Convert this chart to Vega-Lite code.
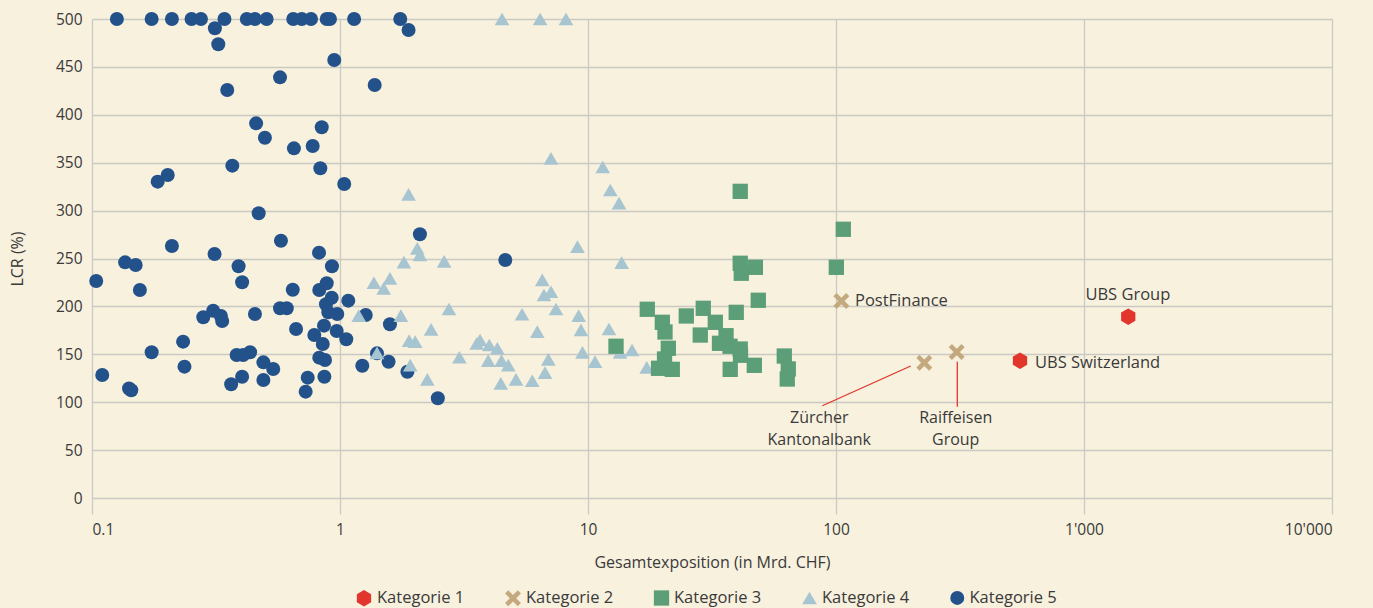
{
  "$schema": "https://vega.github.io/schema/vega-lite/v6.json",
  "width": 1240,
  "height": 479,
  "autosize": "none",
  "padding": {"left": 92, "top": 19, "right": 41, "bottom": 110},
  "background": "#f8f1de",
  "config": {
    "view": {"stroke": null},
    "font": "Open Sans",
    "axis": {"labelColor": "#3a3a3a", "titleColor": "#3a3a3a", "labelFont": "Open Sans", "titleFont": "Open Sans", "titleFontWeight": "normal", "gridColor": "#cbc9c3", "gridWidth": 1.3, "tickColor": "#cbc9c3", "tickWidth": 1.3},
    "legend": {"labelFont": "Open Sans", "labelColor": "#3a3a3a"}
  },
  "datasets": {
    "pts": [
      {"x": 0.126, "y": 500, "kategorie": "Kategorie 5"},
      {"x": 0.174, "y": 500, "kategorie": "Kategorie 5"},
      {"x": 0.210, "y": 500, "kategorie": "Kategorie 5"},
      {"x": 0.252, "y": 500, "kategorie": "Kategorie 5"},
      {"x": 0.275, "y": 500, "kategorie": "Kategorie 5"},
      {"x": 0.342, "y": 500, "kategorie": "Kategorie 5"},
      {"x": 0.421, "y": 500, "kategorie": "Kategorie 5"},
      {"x": 0.454, "y": 500, "kategorie": "Kategorie 5"},
      {"x": 0.506, "y": 500, "kategorie": "Kategorie 5"},
      {"x": 0.648, "y": 500, "kategorie": "Kategorie 5"},
      {"x": 0.701, "y": 500, "kategorie": "Kategorie 5"},
      {"x": 0.764, "y": 500, "kategorie": "Kategorie 5"},
      {"x": 0.884, "y": 500, "kategorie": "Kategorie 5"},
      {"x": 0.911, "y": 500, "kategorie": "Kategorie 5"},
      {"x": 1.14, "y": 500, "kategorie": "Kategorie 5"},
      {"x": 1.75, "y": 500, "kategorie": "Kategorie 5"},
      {"x": 0.313, "y": 490.3, "kategorie": "Kategorie 5"},
      {"x": 0.323, "y": 473.6, "kategorie": "Kategorie 5"},
      {"x": 1.89, "y": 488.5, "kategorie": "Kategorie 5"},
      {"x": 0.948, "y": 457.2, "kategorie": "Kategorie 5"},
      {"x": 0.573, "y": 439.1, "kategorie": "Kategorie 5"},
      {"x": 1.38, "y": 431.1, "kategorie": "Kategorie 5"},
      {"x": 0.351, "y": 425.9, "kategorie": "Kategorie 5"},
      {"x": 0.459, "y": 391.1, "kategorie": "Kategorie 5"},
      {"x": 0.844, "y": 387, "kategorie": "Kategorie 5"},
      {"x": 0.498, "y": 376.1, "kategorie": "Kategorie 5"},
      {"x": 0.652, "y": 365, "kategorie": "Kategorie 5"},
      {"x": 0.776, "y": 367.4, "kategorie": "Kategorie 5"},
      {"x": 0.368, "y": 346.9, "kategorie": "Kategorie 5"},
      {"x": 0.833, "y": 344.2, "kategorie": "Kategorie 5"},
      {"x": 0.184, "y": 330.2, "kategorie": "Kategorie 5"},
      {"x": 0.202, "y": 337.2, "kategorie": "Kategorie 5"},
      {"x": 1.04, "y": 327.8, "kategorie": "Kategorie 5"},
      {"x": 0.470, "y": 297.2, "kategorie": "Kategorie 5"},
      {"x": 2.10, "y": 275.3, "kategorie": "Kategorie 5"},
      {"x": 0.210, "y": 263, "kategorie": "Kategorie 5"},
      {"x": 0.578, "y": 268.6, "kategorie": "Kategorie 5"},
      {"x": 0.312, "y": 254.7, "kategorie": "Kategorie 5"},
      {"x": 0.823, "y": 256.1, "kategorie": "Kategorie 5"},
      {"x": 4.64, "y": 248.4, "kategorie": "Kategorie 5"},
      {"x": 0.104, "y": 226.5, "kategorie": "Kategorie 5"},
      {"x": 0.136, "y": 246, "kategorie": "Kategorie 5"},
      {"x": 0.150, "y": 243.2, "kategorie": "Kategorie 5"},
      {"x": 0.156, "y": 217.1, "kategorie": "Kategorie 5"},
      {"x": 0.390, "y": 241.9, "kategorie": "Kategorie 5"},
      {"x": 0.403, "y": 225.2, "kategorie": "Kategorie 5"},
      {"x": 0.928, "y": 241.9, "kategorie": "Kategorie 5"},
      {"x": 0.884, "y": 224.1, "kategorie": "Kategorie 5"},
      {"x": 0.825, "y": 217.1, "kategorie": "Kategorie 5"},
      {"x": 0.645, "y": 217.4, "kategorie": "Kategorie 5"},
      {"x": 0.926, "y": 209.1, "kategorie": "Kategorie 5"},
      {"x": 1.08, "y": 206, "kategorie": "Kategorie 5"},
      {"x": 0.878, "y": 202.2, "kategorie": "Kategorie 5"},
      {"x": 0.573, "y": 198, "kategorie": "Kategorie 5"},
      {"x": 0.610, "y": 198, "kategorie": "Kategorie 5"},
      {"x": 0.897, "y": 193.8, "kategorie": "Kategorie 5"},
      {"x": 0.975, "y": 192.1, "kategorie": "Kategorie 5"},
      {"x": 1.27, "y": 191, "kategorie": "Kategorie 5"},
      {"x": 0.665, "y": 176.4, "kategorie": "Kategorie 5"},
      {"x": 0.862, "y": 179.9, "kategorie": "Kategorie 5"},
      {"x": 0.970, "y": 174.3, "kategorie": "Kategorie 5"},
      {"x": 0.788, "y": 170.1, "kategorie": "Kategorie 5"},
      {"x": 1.06, "y": 165.7, "kategorie": "Kategorie 5"},
      {"x": 0.852, "y": 160.8, "kategorie": "Kategorie 5"},
      {"x": 1.59, "y": 181.3, "kategorie": "Kategorie 5"},
      {"x": 0.825, "y": 146.5, "kategorie": "Kategorie 5"},
      {"x": 0.870, "y": 144, "kategorie": "Kategorie 5"},
      {"x": 1.41, "y": 151, "kategorie": "Kategorie 5"},
      {"x": 1.57, "y": 142.3, "kategorie": "Kategorie 5"},
      {"x": 1.23, "y": 138.1, "kategorie": "Kategorie 5"},
      {"x": 0.538, "y": 134.7, "kategorie": "Kategorie 5"},
      {"x": 0.741, "y": 125.6, "kategorie": "Kategorie 5"},
      {"x": 0.865, "y": 126.6, "kategorie": "Kategorie 5"},
      {"x": 0.727, "y": 111, "kategorie": "Kategorie 5"},
      {"x": 1.87, "y": 131.8, "kategorie": "Kategorie 5"},
      {"x": 2.48, "y": 104.1, "kategorie": "Kategorie 5"},
      {"x": 0.454, "y": 192.1, "kategorie": "Kategorie 5"},
      {"x": 0.281, "y": 188.6, "kategorie": "Kategorie 5"},
      {"x": 0.308, "y": 195.5, "kategorie": "Kategorie 5"},
      {"x": 0.335, "y": 184.8, "kategorie": "Kategorie 5"},
      {"x": 0.331, "y": 190, "kategorie": "Kategorie 5"},
      {"x": 0.233, "y": 163.2, "kategorie": "Kategorie 5"},
      {"x": 0.236, "y": 137.1, "kategorie": "Kategorie 5"},
      {"x": 0.174, "y": 152.1, "kategorie": "Kategorie 5"},
      {"x": 0.110, "y": 128.4, "kategorie": "Kategorie 5"},
      {"x": 0.141, "y": 114.3, "kategorie": "Kategorie 5"},
      {"x": 0.144, "y": 112.4, "kategorie": "Kategorie 5"},
      {"x": 0.383, "y": 149.3, "kategorie": "Kategorie 5"},
      {"x": 0.407, "y": 149.3, "kategorie": "Kategorie 5"},
      {"x": 0.434, "y": 152.1, "kategorie": "Kategorie 5"},
      {"x": 0.491, "y": 141.6, "kategorie": "Kategorie 5"},
      {"x": 0.403, "y": 126.6, "kategorie": "Kategorie 5"},
      {"x": 0.364, "y": 118.7, "kategorie": "Kategorie 5"},
      {"x": 0.491, "y": 123.2, "kategorie": "Kategorie 5"},

      {"x": 4.50, "y": 500, "kategorie": "Kategorie 4"},
      {"x": 6.41, "y": 500, "kategorie": "Kategorie 4"},
      {"x": 8.15, "y": 500, "kategorie": "Kategorie 4"},
      {"x": 7.09, "y": 354.6, "kategorie": "Kategorie 4"},
      {"x": 11.47, "y": 345.5, "kategorie": "Kategorie 4"},
      {"x": 12.30, "y": 321.5, "kategorie": "Kategorie 4"},
      {"x": 13.34, "y": 307.9, "kategorie": "Kategorie 4"},
      {"x": 9.07, "y": 262.3, "kategorie": "Kategorie 4"},
      {"x": 13.67, "y": 245.6, "kategorie": "Kategorie 4"},
      {"x": 2.63, "y": 246.9, "kategorie": "Kategorie 4"},
      {"x": 6.54, "y": 227.6, "kategorie": "Kategorie 4"},
      {"x": 6.645, "y": 211.9, "kategorie": "Kategorie 4"},
      {"x": 7.09, "y": 215.3, "kategorie": "Kategorie 4"},
      {"x": 7.43, "y": 197.3, "kategorie": "Kategorie 4"},
      {"x": 2.75, "y": 197.3, "kategorie": "Kategorie 4"},
      {"x": 5.42, "y": 191.8, "kategorie": "Kategorie 4"},
      {"x": 9.17, "y": 190.3, "kategorie": "Kategorie 4"},
      {"x": 9.37, "y": 175.4, "kategorie": "Kategorie 4"},
      {"x": 12.15, "y": 176.4, "kategorie": "Kategorie 4"},
      {"x": 6.245, "y": 173.6, "kategorie": "Kategorie 4"},
      {"x": 3.56, "y": 161.5, "kategorie": "Kategorie 4"},
      {"x": 3.67, "y": 164.9, "kategorie": "Kategorie 4"},
      {"x": 4.00, "y": 159.7, "kategorie": "Kategorie 4"},
      {"x": 4.31, "y": 156.3, "kategorie": "Kategorie 4"},
      {"x": 3.03, "y": 146.9, "kategorie": "Kategorie 4"},
      {"x": 3.96, "y": 143.5, "kategorie": "Kategorie 4"},
      {"x": 4.48, "y": 143.5, "kategorie": "Kategorie 4"},
      {"x": 4.77, "y": 138.8, "kategorie": "Kategorie 4"},
      {"x": 6.92, "y": 144.8, "kategorie": "Kategorie 4"},
      {"x": 6.71, "y": 130.8, "kategorie": "Kategorie 4"},
      {"x": 9.50, "y": 152.1, "kategorie": "Kategorie 4"},
      {"x": 10.67, "y": 142.3, "kategorie": "Kategorie 4"},
      {"x": 13.46, "y": 151.9, "kategorie": "Kategorie 4"},
      {"x": 15.05, "y": 154.5, "kategorie": "Kategorie 4"},
      {"x": 4.45, "y": 119.7, "kategorie": "Kategorie 4"},
      {"x": 5.125, "y": 123.9, "kategorie": "Kategorie 4"},
      {"x": 5.96, "y": 122.4, "kategorie": "Kategorie 4"},
      {"x": 17.25, "y": 136.4, "kategorie": "Kategorie 4"},
      {"x": 1.89, "y": 317, "kategorie": "Kategorie 4"},
      {"x": 2.05, "y": 260.6, "kategorie": "Kategorie 4"},
      {"x": 2.10, "y": 253.7, "kategorie": "Kategorie 4"},
      {"x": 1.81, "y": 246.3, "kategorie": "Kategorie 4"},
      {"x": 1.37, "y": 224.7, "kategorie": "Kategorie 4"},
      {"x": 1.59, "y": 229.3, "kategorie": "Kategorie 4"},
      {"x": 1.50, "y": 218.9, "kategorie": "Kategorie 4"},
      {"x": 1.19, "y": 190.3, "kategorie": "Kategorie 4"},
      {"x": 1.76, "y": 190.3, "kategorie": "Kategorie 4"},
      {"x": 2.33, "y": 176.1, "kategorie": "Kategorie 4"},
      {"x": 1.90, "y": 164.2, "kategorie": "Kategorie 4"},
      {"x": 2.01, "y": 163.2, "kategorie": "Kategorie 4"},
      {"x": 1.41, "y": 151.4, "kategorie": "Kategorie 4"},
      {"x": 1.92, "y": 138.8, "kategorie": "Kategorie 4"},
      {"x": 2.25, "y": 123.9, "kategorie": "Kategorie 4"},

      {"x": 41.1, "y": 320.1, "kategorie": "Kategorie 3"},
      {"x": 107.0, "y": 280.5, "kategorie": "Kategorie 3"},
      {"x": 100.3, "y": 240.8, "kategorie": "Kategorie 3"},
      {"x": 41.1, "y": 245, "kategorie": "Kategorie 3"},
      {"x": 41.5, "y": 234.6, "kategorie": "Kategorie 3"},
      {"x": 47.3, "y": 240.8, "kategorie": "Kategorie 3"},
      {"x": 48.6, "y": 206.4, "kategorie": "Kategorie 3"},
      {"x": 17.34, "y": 197, "kategorie": "Kategorie 3"},
      {"x": 29.16, "y": 198, "kategorie": "Kategorie 3"},
      {"x": 39.6, "y": 193.8, "kategorie": "Kategorie 3"},
      {"x": 19.94, "y": 183.4, "kategorie": "Kategorie 3"},
      {"x": 20.44, "y": 173.3, "kategorie": "Kategorie 3"},
      {"x": 24.91, "y": 190, "kategorie": "Kategorie 3"},
      {"x": 32.61, "y": 183.4, "kategorie": "Kategorie 3"},
      {"x": 28.36, "y": 170.1, "kategorie": "Kategorie 3"},
      {"x": 36.02, "y": 169.4, "kategorie": "Kategorie 3"},
      {"x": 33.9, "y": 161.5, "kategorie": "Kategorie 3"},
      {"x": 37.38, "y": 158.4, "kategorie": "Kategorie 3"},
      {"x": 41.1, "y": 155.5, "kategorie": "Kategorie 3"},
      {"x": 41.2, "y": 149, "kategorie": "Kategorie 3"},
      {"x": 21.08, "y": 156.3, "kategorie": "Kategorie 3"},
      {"x": 20.35, "y": 145.1, "kategorie": "Kategorie 3"},
      {"x": 19.25, "y": 135.4, "kategorie": "Kategorie 3"},
      {"x": 21.87, "y": 134.3, "kategorie": "Kategorie 3"},
      {"x": 37.45, "y": 134.3, "kategorie": "Kategorie 3"},
      {"x": 46.84, "y": 138.5, "kategorie": "Kategorie 3"},
      {"x": 61.87, "y": 148.2, "kategorie": "Kategorie 3"},
      {"x": 64.2, "y": 134.7, "kategorie": "Kategorie 3"},
      {"x": 63.6, "y": 124.2, "kategorie": "Kategorie 3"},
      {"x": 12.97, "y": 158.4, "kategorie": "Kategorie 3"},

      {"x": 105.1, "y": 205.6, "kategorie": "Kategorie 2"},
      {"x": 227, "y": 141.2, "kategorie": "Kategorie 2"},
      {"x": 306.7, "y": 152.4, "kategorie": "Kategorie 2"},

      {"x": 1508, "y": 189.2, "kategorie": "Kategorie 1"},
      {"x": 552, "y": 143.3, "kategorie": "Kategorie 1"}
    ],
    "lines": [
      {"x": 88.1, "y": 96.3, "x2": 200.1, "y2": 137.8},
      {"x": 308.4, "y": 95.3, "x2": 308.4, "y2": 142.3}
    ],
    "labelsLeft": [
      {"x": 119.3, "y": 205.6, "label": "PostFinance"},
      {"x": 634.5, "y": 140.9, "label": "UBS Switzerland"}
    ],
    "labelsCenter": [
      {"x": 1503, "y": 211.9, "label": "UBS Group"}
    ],
    "labelsMulti": [
      {"x": 85.6, "y": 91.5, "label": "Zürcher\nKantonalbank"},
      {"x": 303.9, "y": 91.5, "label": "Raiffeisen\nGroup"}
    ]
  },
  "layer": [
    {
      "data": {"name": "pts"},
      "mark": {"type": "point", "filled": true, "opacity": 1, "strokeWidth": 0},
      "encoding": {
        "x": {
          "field": "x", "type": "quantitative",
          "scale": {"type": "log", "domain": [0.1, 10000], "nice": false},
          "axis": {
            "title": "Gesamtexposition (in Mrd. CHF)",
            "values": [0.1, 1, 10, 100, 1000, 10000],
            "labelExpr": "replace(format(datum.value, ',~r'), ',', \"'\")",
            "grid": true, "domain": false, "ticks": true, "tickSize": 16,
            "labelFontSize": 15.5, "labelPadding": 8,
            "titleFontSize": 16, "titlePadding": 17
          }
        },
        "y": {
          "field": "y", "type": "quantitative",
          "scale": {"domain": [0, 500], "nice": false, "zero": true},
          "axis": {
            "title": "LCR (%)",
            "values": [0, 50, 100, 150, 200, 250, 300, 350, 400, 450, 500],
            "grid": true, "domain": false, "ticks": false,
            "labelFontSize": 15.5, "labelPadding": 10,
            "titleFontSize": 16, "titlePadding": 30
          }
        },
        "color": {
          "field": "kategorie", "type": "nominal",
          "scale": {
            "domain": ["Kategorie 1", "Kategorie 2", "Kategorie 3", "Kategorie 4", "Kategorie 5"],
            "range": ["#e2352c", "#c4a97f", "#5b9e77", "#a7c4d1", "#23528b"]
          },
          "legend": {
            "title": null, "orient": "none", "direction": "horizontal",
            "legendX": 263, "legendY": 570,
            "labelFontSize": 16.5, "labelOffset": 4, "columnPadding": 39
          }
        },
        "shape": {
          "field": "kategorie", "type": "nominal",
          "scale": {
            "domain": ["Kategorie 1", "Kategorie 2", "Kategorie 3", "Kategorie 4", "Kategorie 5"],
            "range": [
              "M0,-1L0.866,-0.5L0.866,0.5L0,1L-0.866,0.5L-0.866,-0.5Z",
              "M-1,-0.6L-0.6,-1L0,-0.4L0.6,-1L1,-0.6L0.4,0L1,0.6L0.6,1L0,0.4L-0.6,1L-1,0.6L-0.4,0Z",
              "square", "triangle-up", "circle"
            ]
          }
        },
        "size": {
          "field": "kategorie", "type": "nominal",
          "scale": {
            "domain": ["Kategorie 1", "Kategorie 2", "Kategorie 3", "Kategorie 4", "Kategorie 5"],
            "range": [272, 196, 180, 320, 270]
          }
        }
      }
    },
    {
      "data": {"name": "lines"},
      "mark": {"type": "rule", "color": "#e2352c", "strokeWidth": 1.3},
      "encoding": {
        "x": {"field": "x", "type": "quantitative"},
        "y": {"field": "y", "type": "quantitative"},
        "x2": {"field": "x2"},
        "y2": {"field": "y2"}
      }
    },
    {
      "data": {"name": "labelsLeft"},
      "mark": {"type": "text", "align": "left", "baseline": "middle", "fontSize": 16.5, "color": "#3a3a3a", "font": "Open Sans"},
      "encoding": {
        "x": {"field": "x", "type": "quantitative"},
        "y": {"field": "y", "type": "quantitative"},
        "text": {"field": "label"}
      }
    },
    {
      "data": {"name": "labelsCenter"},
      "mark": {"type": "text", "align": "center", "baseline": "middle", "fontSize": 16.5, "color": "#3a3a3a", "font": "Open Sans"},
      "encoding": {
        "x": {"field": "x", "type": "quantitative"},
        "y": {"field": "y", "type": "quantitative"},
        "text": {"field": "label"}
      }
    },
    {
      "data": {"name": "labelsMulti"},
      "mark": {"type": "text", "align": "center", "baseline": "top", "fontSize": 16, "lineHeight": 22, "lineBreak": "\n", "color": "#3a3a3a", "font": "Open Sans"},
      "encoding": {
        "x": {"field": "x", "type": "quantitative"},
        "y": {"field": "y", "type": "quantitative"},
        "text": {"field": "label"}
      }
    }
  ]
}
